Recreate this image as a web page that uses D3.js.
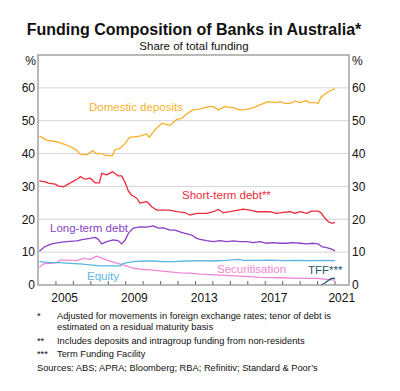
<!DOCTYPE html>
<html><head><meta charset="utf-8">
<script src="https://cdn.jsdelivr.net/npm/d3@7"></script>
<style>body{margin:0;background:#fff;font-family:"Liberation Sans",Arial,sans-serif;}</style>
</head><body><svg id="c" width="400" height="391"></svg>
<script>
// ---- data (decimal years, % of total funding) ----
const depositsYears = [2004.08,2004.5,2005.07,2005.65,2005.93,2006.2,2006.4,2006.8,2007.14,2007.37,2007.55,2007.94,2008.28,2008.4,2008.7,2009.0,2009.24,2009.85,2010.23,2010.38,2010.7,2011.1,2011.57,2011.95,2012.24,2012.6,2012.9,2013.25,2013.77,2014.05,2014.34,2014.72,2015.2,2015.5,2015.87,2016.35,2016.73,2017.2,2017.59,2017.88,2018.16,2018.45,2018.74,2019.02,2019.4,2019.56,2019.88,2020.07,2020.21,2020.5,2020.74,2020.93,2021.03];
const depositsValues = [45.3,44.1,43.6,42.6,41.9,41.1,39.9,39.6,40.9,39.9,40.1,39.4,39.4,41.1,41.6,43.1,44.9,45.3,46.0,44.9,47.2,49.2,48.6,50.4,50.7,52.4,53.3,53.5,54.3,54.3,53.3,54.3,54.0,53.3,53.3,54.0,54.8,55.8,55.5,55.8,55.3,55.3,56.0,55.5,56.1,55.5,55.5,55.3,57.1,58.3,59.1,59.5,59.8];

const shortYears = [2004.08,2004.41,2004.6,2004.98,2005.18,2005.47,2005.86,2006.33,2006.43,2006.7,2007.0,2007.27,2007.52,2007.65,2007.94,2008.28,2008.6,2008.8,2009.0,2009.18,2009.36,2009.66,2009.85,2010.23,2010.52,2010.81,2011.19,2011.57,2011.95,2012.43,2012.71,2013.1,2013.29,2013.67,2014.05,2014.34,2014.62,2015.0,2015.48,2015.77,2016.15,2016.54,2016.92,2017.3,2017.68,2018.06,2018.45,2018.74,2019.02,2019.4,2019.69,2020.07,2020.26,2020.45,2020.64,2020.83,2021.03];
const shortValues = [31.7,31.4,31.0,30.7,30.1,29.9,31.1,32.5,33.0,32.2,32.5,31.1,31.1,34.0,33.5,34.5,33.2,33.2,31.1,28.6,27.4,26.4,24.9,25.4,23.8,22.8,22.8,22.8,22.3,22.0,21.3,21.8,21.8,21.8,22.3,23.0,22.0,22.3,22.8,23.1,22.8,22.3,22.3,22.3,21.8,22.1,22.3,21.8,22.3,21.8,22.5,22.5,21.8,20.3,19.3,18.8,19.0];

const longYears = [2004.08,2004.4,2004.78,2005.16,2005.64,2006.22,2006.6,2006.98,2007.27,2007.46,2007.65,2007.94,2008.32,2008.6,2008.8,2009.0,2009.18,2009.46,2009.85,2010.23,2010.61,2010.9,2011.19,2011.57,2011.85,2012.14,2012.43,2012.81,2013.1,2013.29,2013.67,2014.05,2014.44,2014.82,2015.2,2015.58,2015.97,2016.35,2016.73,2017.11,2017.5,2017.88,2018.26,2018.64,2019.02,2019.4,2019.79,2020.07,2020.26,2020.55,2020.83,2021.03];
const longValues = [10.3,11.7,12.5,12.9,13.2,13.4,13.9,14.2,14.5,13.9,12.5,13.2,13.7,13.5,12.5,13.7,15.7,17.3,17.7,17.6,18.0,17.3,17.4,16.7,16.7,16.2,15.7,15.2,14.2,13.9,13.5,13.2,13.5,13.2,13.4,13.2,13.2,12.9,13.2,12.7,12.9,12.7,12.7,12.9,12.7,12.5,12.7,12.5,11.7,11.4,10.9,10.4];

const equityYears = [2004.08,2004.69,2005.26,2005.84,2006.41,2006.98,2007.55,2008.13,2008.7,2008.9,2009.46,2010.04,2010.61,2011.19,2011.76,2012.52,2013.29,2014.0,2014.8,2015.5,2015.8,2016.5,2017.3,2018.1,2018.9,2019.7,2020.4,2021.03];
const equityValues = [7.1,6.8,6.8,6.6,6.4,6.1,5.8,5.8,5.8,6.6,7.1,7.3,7.3,7.1,7.1,7.3,7.4,7.3,7.5,7.8,7.5,7.5,7.6,7.4,7.5,7.4,7.5,7.4];

const securYears = [2004.08,2004.31,2004.69,2005.07,2005.26,2005.64,2006.22,2006.6,2006.98,2007.36,2007.55,2007.94,2008.41,2008.89,2009.46,2009.85,2010.42,2010.99,2011.57,2012.14,2012.71,2013.29,2014.43,2015.58,2016.73,2017.88,2019.02,2019.98,2020.55,2021.03];
const securValues = [5.4,6.4,6.6,6.8,7.6,7.6,7.4,8.1,7.8,8.8,8.4,7.6,6.8,6.1,5.1,4.8,4.6,4.3,4.0,3.7,3.6,3.3,3.0,2.7,2.3,2.2,2.0,2.0,1.7,1.5];

const tffYears = [2020.24,2020.45,2020.64,2020.83,2021.03];
const tffValues = [0.0,0.6,1.4,2.0,2.0];

const yTicks = [0,10,20,30,40,50,60];
const yearLabels = [2005,2009,2013,2017,2021];

const series = [
  {name:"Domestic deposits", years:depositsYears, values:depositsValues, color:"#f7b12a", lx:89, ly:107},
  {name:"Short-term debt**", years:shortYears, values:shortValues, color:"#ee2a3c", lx:182, ly:195},
  {name:"Long-term debt", years:longYears, values:longValues, color:"#8b3fc6", lx:50, ly:228},
  {name:"Securitisation", years:securYears, values:securValues, color:"#ef86d3", lx:217, ly:269},
  {name:"Equity", years:equityYears, values:equityValues, color:"#5ab6e6", lx:87, ly:276},
  {name:"TFF***", years:tffYears, values:tffValues, color:"#1f5d6a", lx:308, ly:270}
];
const footnotes = [
  ["*","Adjusted for movements in foreign exchange rates; tenor of debt is"],
  ["","estimated on a residual maturity basis"],
  ["**","Includes deposits and intragroup funding from non-residents"],
  ["***","Term Funding Facility"]
];
const sourceText = "Sources: ABS; APRA; Bloomberg; RBA; Refinitiv; Standard & Poor’s";

// ---- layout ----
const svg = d3.select("#c");
const L = 38, R = 349, T = 55, B = 285;
const x = d3.scaleLinear().domain([2004, 2021.83]).range([L, R]);
const y = d3.scaleLinear().domain([0, 70]).range([B, T]);

svg.append("text").attr("x",194).attr("y",35).attr("text-anchor","middle")
  .attr("font-size",16).attr("font-weight","bold").attr("fill","#111")
  .text("Funding Composition of Banks in Australia*");
svg.append("text").attr("x",194).attr("y",50).attr("text-anchor","middle")
  .attr("font-size",11.5).attr("fill","#111").text("Share of total funding");

// gridlines
svg.append("g").selectAll("line").data(yTicks.filter(d=>d>0)).join("line")
  .attr("x1",L).attr("x2",R).attr("y1",d=>y(d)).attr("y2",d=>y(d))
  .attr("stroke","#d4d4d4").attr("stroke-width",1);

// y axes labels
const yl = svg.append("g").attr("transform",`translate(${L},0)`)
  .call(d3.axisLeft(y).tickValues(yTicks).tickSize(0).tickPadding(3));
const yr = svg.append("g").attr("transform",`translate(${R},0)`)
  .call(d3.axisRight(y).tickValues(yTicks).tickSize(0).tickPadding(3));
[yl,yr].forEach(g=>{g.select(".domain").remove();
  g.selectAll("text").attr("font-size",12).attr("fill","#111").attr("font-family","Liberation Sans, Arial, sans-serif");});

svg.append("text").attr("x",36).attr("y",65).attr("text-anchor","end").attr("font-size",12).attr("fill","#111").text("%");
svg.append("text").attr("x",352).attr("y",65).attr("text-anchor","start").attr("font-size",12).attr("fill","#111").text("%");

// x axis: year ticks inward, labels at mid-year
const yearTicks = d3.range(2005, 2022);
const xa = svg.append("g").attr("transform",`translate(0,${B})`)
  .call(d3.axisTop(x).tickValues(yearTicks).tickSize(4).tickFormat(""));
xa.select(".domain").remove();
xa.selectAll("line").attr("stroke","#666");
const xl = svg.append("g").attr("transform",`translate(0,${B+1})`)
  .call(d3.axisBottom(x).tickValues(yearLabels.map(v=>v+0.5)).tickSize(0).tickPadding(7).tickFormat(d=>d3.format("d")(Math.floor(d))));
xl.select(".domain").remove();
xl.selectAll("text").attr("font-size",12).attr("fill","#111").attr("font-family","Liberation Sans, Arial, sans-serif");
xl.selectAll("text").filter(d=>Math.floor(d)===2021).attr("dx",-2);

// lines
const line = d3.line().x(d=>x(d[0])).y(d=>y(d[1]));
series.forEach(s=>{
  svg.append("path").datum(d3.zip(s.years, s.values)).attr("d",line)
    .attr("fill","none").attr("stroke",s.color).attr("stroke-width",1.3).attr("stroke-linejoin","round");
});
series.forEach(s=>{
  svg.append("text").attr("x",s.lx).attr("y",s.ly+4)
    .attr("font-size",11.5).attr("fill",s.color).text(s.name);
});

// frame
svg.append("rect").attr("x",L).attr("y",T).attr("width",R-L).attr("height",B-T)
  .attr("fill","none").attr("stroke","#8c8c8c").attr("stroke-width",1.2);

// footnotes
const fy = [319, 330, 344, 357];
footnotes.forEach((f,i)=>{
  svg.append("text").attr("x",37).attr("y",fy[i]).attr("font-size",9.3).attr("fill","#111").text(f[0]);
  svg.append("text").attr("x",57).attr("y",fy[i]).attr("font-size",9.3).attr("fill","#111").text(f[1]);
});
svg.append("text").attr("x",37).attr("y",371).attr("font-size",9.3).attr("fill","#111").text(sourceText);
</script></body></html>
